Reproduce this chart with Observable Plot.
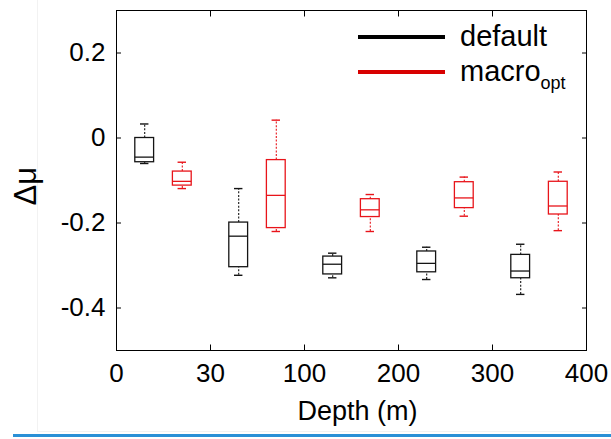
<!DOCTYPE html>
<html>
<head>
<meta charset="utf-8">
<script src="https://cdn.jsdelivr.net/npm/d3@7"></script>
<script src="https://cdn.jsdelivr.net/npm/@observablehq/plot@0.6"></script>
<style>
  html, body { margin: 0; padding: 0; background: #fff; }
  #wrap { position: relative; width: 611px; height: 439px; overflow: hidden; font-family: "Liberation Sans", Arial, sans-serif; }
  #wrap svg { position: absolute; left: 0; top: 0; }
  .legend { position: absolute; left: 358px; top: 0; font-size: 29px; color: #000; }
  .legend .row { position: absolute; left: 0; white-space: nowrap; }
  .legend .sw { position: absolute; left: 0; width: 87px; height: 4px; }
  .legend .lab { position: absolute; left: 102px; line-height: 1; }
  .legend sub { font-size: 18px; vertical-align: -0.42em; line-height: 0; }
  #blue { position: absolute; left: 13px; top: 434px; width: 598px; height: 3px; background: #2a90d6; }
  #faintV { position: absolute; left: 37px; top: 0; width: 1px; height: 431px; background: #f2f2f2; }
  #faintH { position: absolute; left: 37px; top: 431px; width: 574px; height: 1px; background: #f2f2f2; }
</style>
</head>
<body>
<div id="wrap">
  <div id="faintV"></div><div id="faintH"></div>
  <div id="chart"></div>
  <div class="legend" id="legend"></div>
  <div id="blue"></div>
</div>
<script>
// ---- data ----
const depthTicks = ["0", "30", "100", "200", "300", "400"];
const depthBins = ["0-30", "30-100", "100-200", "200-300", "300-400"];
const series = ["default", "macro_opt"];
const seriesColors = ["#141414", "#e8141a"];
const yTicks = [-0.4, -0.2, 0, 0.2];

// default run: whisker low, Q1, median, Q3, whisker high per depth bin
const defaultLo  = [-0.060, -0.323, -0.329, -0.333, -0.368];
const defaultQ1  = [-0.057, -0.304, -0.321, -0.316, -0.330];
const defaultMed = [-0.045, -0.231, -0.297, -0.295, -0.313];
const defaultQ3  = [ 0.000, -0.199, -0.279, -0.267, -0.275];
const defaultHi  = [ 0.033, -0.119, -0.271, -0.257, -0.250];

// macro_opt run
const macroLo  = [-0.119, -0.220, -0.220, -0.184, -0.218];
const macroQ1  = [-0.112, -0.212, -0.186, -0.165, -0.180];
const macroMed = [-0.102, -0.135, -0.169, -0.141, -0.160];
const macroQ3  = [-0.079, -0.052, -0.144, -0.104, -0.103];
const macroHi  = [-0.057,  0.042, -0.133, -0.092, -0.080];

// ---- build table ----
const stats = {
  "default":   {lo: defaultLo, q1: defaultQ1, med: defaultMed, q3: defaultQ3, hi: defaultHi},
  "macro_opt": {lo: macroLo,   q1: macroQ1,   med: macroMed,   q3: macroQ3,   hi: macroHi}
};
const offset = d3.scalePoint(series, [0.3, 0.7]); // position of each series inside a depth bin
const rows = [];
series.forEach(s => depthBins.forEach((bin, b) => {
  const st = stats[s];
  rows.push({series: s, bin, pos: b + offset(s), lo: st.lo[b], q1: st.q1[b], med: st.med[b], q3: st.q3[b], hi: st.hi[b]});
}));

const boxHalf = 0.1, capHalf = 0.045;
const inner = d3.range(1, depthTicks.length - 1);

const chart = Plot.plot({
  width: 611,
  height: 439,
  marginLeft: 116,
  marginRight: 25,
  marginTop: 10,
  marginBottom: 89,
  style: {fontFamily: "Liberation Sans, Arial, sans-serif", fontSize: "26px", color: "#000", background: "transparent"},
  x: {domain: [0, depthTicks.length - 1]},
  y: {domain: [-0.5, 0.3]},
  color: {domain: series, range: seriesColors},
  marks: [
    // whiskers (dotted)
    Plot.ruleX(rows, {x: "pos", y1: "q3", y2: "hi", stroke: "series", strokeWidth: 1.1, strokeDasharray: "2,1.6"}),
    Plot.ruleX(rows, {x: "pos", y1: "lo", y2: "q1", stroke: "series", strokeWidth: 1.1, strokeDasharray: "2,1.6"}),
    // caps
    Plot.ruleY(rows, {y: "hi", x1: d => d.pos - capHalf, x2: d => d.pos + capHalf, stroke: "series", strokeWidth: 1.4}),
    Plot.ruleY(rows, {y: "lo", x1: d => d.pos - capHalf, x2: d => d.pos + capHalf, stroke: "series", strokeWidth: 1.4}),
    // boxes
    Plot.rect(rows, {x1: d => d.pos - boxHalf, x2: d => d.pos + boxHalf, y1: "q1", y2: "q3", fill: "white", stroke: "series", strokeWidth: 1.3}),
    // medians
    Plot.ruleY(rows, {y: "med", x1: d => d.pos - boxHalf, x2: d => d.pos + boxHalf, stroke: "series", strokeWidth: 1.3}),
    // axes labels
    Plot.axisX({anchor: "bottom", ticks: d3.range(depthTicks.length), tickFormat: i => depthTicks[i], tickSize: 0, tickPadding: 13, label: null, fontSize: 26}),
    Plot.axisY({anchor: "left", ticks: yTicks, tickFormat: d => String(d), tickSize: 0, tickPadding: 11, label: null, fontSize: 26}),
    // inward ticks on all four sides
    Plot.axisX({anchor: "bottom", ticks: inner, tickFormat: () => "", tickSize: -5.5, label: null, stroke: "#000"}),
    Plot.axisX({anchor: "top", ticks: inner, tickFormat: () => "", tickSize: -5.5, label: null, stroke: "#000"}),
    Plot.axisY({anchor: "left", ticks: yTicks, tickFormat: () => "", tickSize: -5, label: null, stroke: "#000"}),
    Plot.axisY({anchor: "right", ticks: yTicks, tickFormat: () => "", tickSize: -5, label: null, stroke: "#000"}),
    Plot.frame({stroke: "#000", strokeWidth: 1}),
    // axis titles
    Plot.text(["Depth (m)"], {frameAnchor: "bottom", dx: 6, dy: 69, fontSize: 27, fill: "#000"}),
    Plot.text(["Δμ"], {frameAnchor: "left", dx: -90, dy: 25, rotate: -90, fontSize: 31, fill: "#000"})
  ]
});
document.getElementById("chart").appendChild(chart);

// legend (inside the frame, top right)
const legendLabels = [["default", ""], ["macro", "opt"]];
const legendTops = [35, 70];
const legend = document.getElementById("legend");
series.forEach((s, i) => {
  const row = document.createElement("div");
  row.className = "row";
  row.style.top = "0px";
  const sw = document.createElement("div");
  sw.className = "sw";
  sw.style.top = legendTops[i] + "px";
  sw.style.background = i === 0 ? "#000" : "#d80000";
  const lab = document.createElement("div");
  lab.className = "lab";
  lab.style.top = (legendTops[i] - 13) + "px";
  lab.innerHTML = legendLabels[i][0] + (legendLabels[i][1] ? "<sub>" + legendLabels[i][1] + "</sub>" : "");
  row.appendChild(sw); row.appendChild(lab);
  legend.appendChild(row);
});
</script>
</body>
</html>
